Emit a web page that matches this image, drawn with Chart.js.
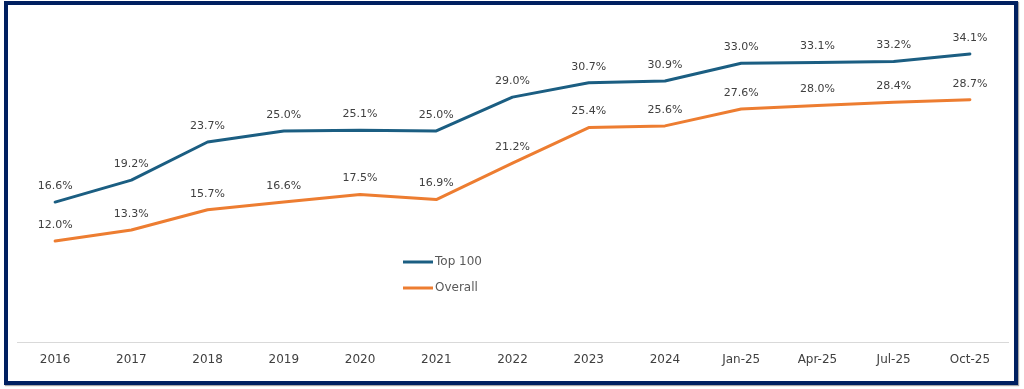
<!DOCTYPE html>
<html>
<head>
<meta charset="utf-8">
<script src="https://cdn.jsdelivr.net/npm/chart.js@4.4.1/dist/chart.umd.min.js"></script>
<style>
  html, body { margin: 0; padding: 0; background: #fff; }
  #frame {
    position: absolute; left: 4px; top: 1px;
    width: 1006px; height: 376px;
    border: 4px solid #002060;
    box-shadow: 1px 1px 1px rgba(0, 0, 0, 0.35);
  }
  #wrap { position: absolute; left: 0; top: 0; width: 1024px; height: 389px; }
</style>
</head>
<body>
<div id="frame"></div>
<div id="wrap"><canvas id="chart" width="1024" height="389"></canvas></div>
<script>
// categories and values
const periods = ["2016", "2017", "2018", "2019", "2020", "2021", "2022", "2023", "2024", "Jan-25", "Apr-25", "Jul-25", "Oct-25"];
const top100 = [16.6, 19.2, 23.7, 25.0, 25.1, 25.0, 29.0, 30.7, 30.9, 33.0, 33.1, 33.2, 34.1];
const overall = [12.0, 13.3, 15.7, 16.6, 17.5, 16.9, 21.2, 25.4, 25.6, 27.6, 28.0, 28.4, 28.7];

const seriesNames = ["Top 100", "Overall"];
const seriesColors = ["#1B5E82", "#ED7D31"];

const labelFont = "11px 'DejaVu Sans', Tahoma, sans-serif";
const tickFont = { family: "'DejaVu Sans', Tahoma, sans-serif", size: 12 };

// value labels above every point
const pointLabels = {
  id: "pointLabels",
  afterDatasetsDraw(chart) {
    const ctx = chart.ctx;
    ctx.save();
    ctx.font = labelFont;
    ctx.fillStyle = "#404040";
    ctx.textAlign = "center";
    ctx.textBaseline = "middle";
    chart.data.datasets.forEach((ds, i) => {
      const meta = chart.getDatasetMeta(i);
      meta.data.forEach((pt, j) => {
        ctx.fillText(ds.data[j].toFixed(1) + "%", pt.x, pt.y - 16);
      });
    });
    ctx.restore();
  }
};

// legend sitting inside the plot area
const innerLegend = {
  id: "innerLegend",
  afterDraw(chart) {
    const ctx = chart.ctx;
    const area = chart.chartArea;
    const x0 = area.left + 386;
    const y0 = area.top + 258;
    ctx.save();
    ctx.font = "12px 'DejaVu Sans', Tahoma, sans-serif";
    ctx.textBaseline = "middle";
    chart.data.datasets.forEach((ds, i) => {
      const y = y0 + i * 26;
      ctx.strokeStyle = ds.borderColor;
      ctx.lineWidth = 3;
      ctx.beginPath();
      ctx.moveTo(x0, y);
      ctx.lineTo(x0 + 30, y);
      ctx.stroke();
      ctx.fillStyle = "#595959";
      ctx.fillText(ds.label, x0 + 32, y);
    });
    ctx.restore();
  }
};

const chart = new Chart(document.getElementById("chart"), {
  type: "line",
  data: {
    labels: periods,
    datasets: [
      { label: seriesNames[0], data: top100, borderColor: seriesColors[0] },
      { label: seriesNames[1], data: overall, borderColor: seriesColors[1] }
    ]
  },
  options: {
    responsive: false,
    animation: false,
    events: [],
    layout: { padding: { left: 17, right: 16, top: 4, bottom: 12 } },
    elements: {
      line: { borderWidth: 3, tension: 0, borderJoinStyle: "round", borderCapStyle: "round", fill: false },
      point: { radius: 0 }
    },
    plugins: { legend: { display: false }, tooltip: { enabled: false } },
    scales: {
      x: {
        offset: true,
        grid: { display: false, drawTicks: false },
        border: { display: true, color: "#D9D9D9", width: 1 },
        ticks: { color: "#404040", font: tickFont, padding: 10, maxRotation: 0 }
      },
      y: { display: false, min: 0, max: 40 }
    }
  },
  plugins: [pointLabels, innerLegend]
});
</script>
</body>
</html>
